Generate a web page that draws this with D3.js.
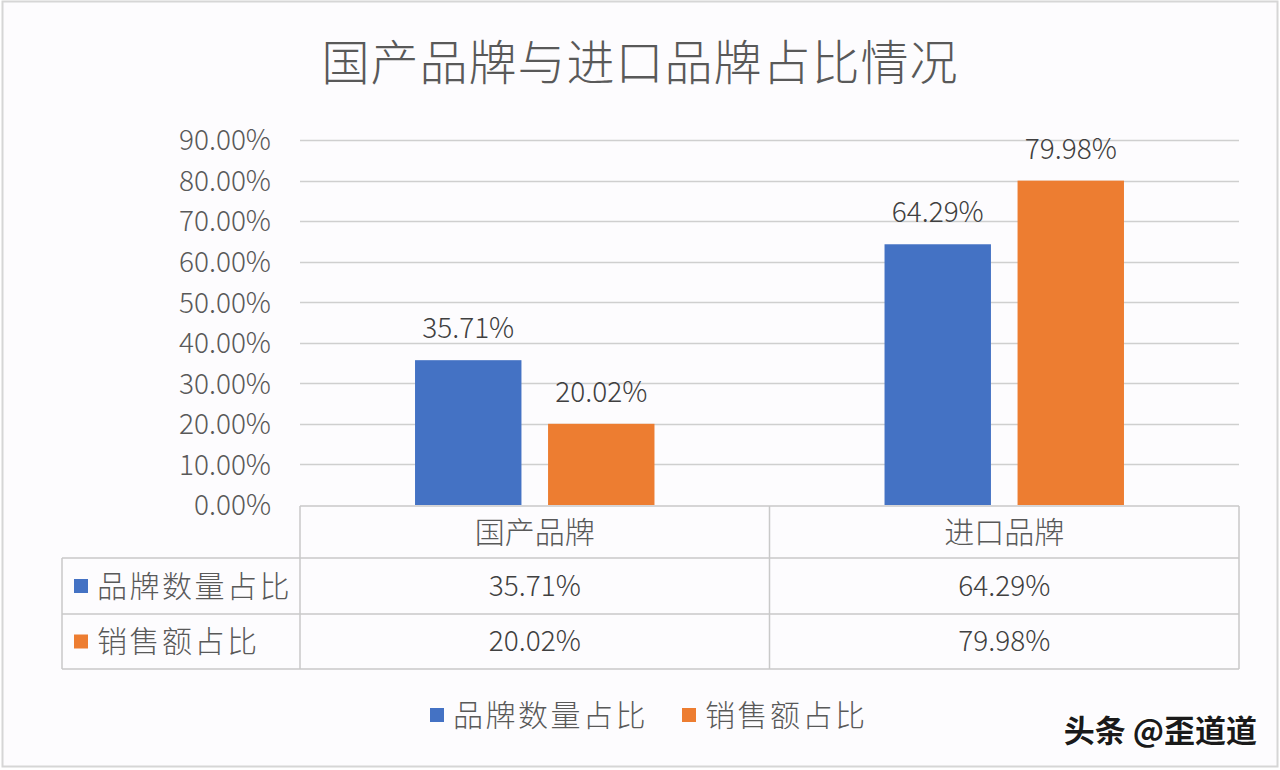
<!DOCTYPE html>
<html><head><meta charset="utf-8">
<script src="https://cdn.jsdelivr.net/npm/d3@7"></script>
<style>
html,body{margin:0;padding:0;background:#fff;}
svg{display:block;}
text{font-family:"Noto Sans CJK SC","Noto Sans",sans-serif;font-weight:300;}
</style></head>
<body>
<svg id="c" width="1280" height="770"></svg>
<script>
const title = "国产品牌与进口品牌占比情况";
const categories = ["国产品牌", "进口品牌"];
const seriesNames = ["品牌数量占比", "销售额占比"];
const brandCountShare = [0.3571, 0.6429];
const salesShare = [0.2002, 0.7998];
const yTicks = [0, 0.1, 0.2, 0.3, 0.4, 0.5, 0.6, 0.7, 0.8, 0.9];
const seriesColors = ["#4472C4", "#ED7D31"];
const watermark = "头条 @歪道道";

const seriesValues = [brandCountShare, salesShare];
const fmt = d3.format(".2%");
const svg = d3.select("#c");
const textColor = "#595959";

// background + outer border
svg.append("rect").attr("x", 2.5).attr("y", 1.5).attr("width", 1275).attr("height", 765)
  .attr("fill", "#fdfcfe").attr("stroke", "#d6d6d6").attr("stroke-width", 2);

// title
svg.append("text").attr("x", 640).attr("y", 80).attr("text-anchor", "middle")
  .attr("font-size", 48).attr("letter-spacing", 1).attr("fill", textColor).text(title);

const plotL = 300, plotR = 1239, plotT = 140, plotB = 505;
const x = d3.scaleBand().domain(categories).range([plotL, plotR]).padding(0);
const bw = x.bandwidth();
const xs = d3.scaleBand().domain(seriesNames).range([bw * 0.245, bw * 0.755]).paddingInner(0.2).paddingOuter(0);
const y = d3.scaleLinear().domain([0, 0.9]).range([plotB, plotT]);

// gridlines
svg.append("g").selectAll("line").data(yTicks.filter(d => d > 0)).join("line")
  .attr("x1", plotL).attr("x2", plotR)
  .attr("y1", d => Math.round(y(d)) + 0.5).attr("y2", d => Math.round(y(d)) + 0.5)
  .attr("stroke", "#cfcfcf").attr("stroke-width", 1.5);

// y axis
const yAxis = svg.append("g").attr("transform", `translate(${plotL - 29},0)`)
  .call(d3.axisLeft(y).tickValues(yTicks).tickFormat(fmt).tickSize(0).tickPadding(0));
yAxis.select(".domain").remove();
yAxis.selectAll("text").attr("font-size", 28).attr("fill", textColor)
  .attr("font-family", '"Noto Sans CJK SC","Noto Sans",sans-serif').attr("font-weight", 300).attr("dy", "0.35em");

// bars
const gBars = svg.append("g");
seriesNames.forEach((s, si) => {
  categories.forEach((c, ci) => {
    const v = seriesValues[si][ci];
    const bx = x(c) + xs(s);
    gBars.append("rect").attr("x", bx).attr("y", y(v)).attr("width", xs.bandwidth())
      .attr("height", y(0) - y(v)).attr("fill", seriesColors[si]);
    gBars.append("text").attr("x", bx + xs.bandwidth() / 2).attr("y", y(v) - 22)
      .attr("text-anchor", "middle").attr("font-size", 28).attr("fill", "#404040").text(fmt(v));
  });
});

// data table
const tableL = 62, rowY = [506, 558, 614, 669];
const tg = svg.append("g").attr("stroke", "#c9c9c9").attr("stroke-width", 1.5).attr("fill", "none");
tg.append("line").attr("x1", plotL).attr("x2", plotR).attr("y1", rowY[0]).attr("y2", rowY[0]);
[1, 2, 3].forEach(i => tg.append("line").attr("x1", tableL).attr("x2", plotR).attr("y1", rowY[i]).attr("y2", rowY[i]));
tg.append("line").attr("x1", tableL).attr("x2", tableL).attr("y1", rowY[1]).attr("y2", rowY[3]);
[plotL, x(categories[1]), plotR].forEach(vx =>
  tg.append("line").attr("x1", vx).attr("x2", vx).attr("y1", rowY[0]).attr("y2", rowY[3]));

// header
categories.forEach(c => {
  svg.append("text").attr("x", x(c) + bw / 2).attr("y", (rowY[0] + rowY[1]) / 2)
    .attr("dy", "0.35em").attr("text-anchor", "middle").attr("font-size", 30)
    .attr("fill", textColor).text(c);
});
// rows
seriesNames.forEach((s, si) => {
  const cy = (rowY[si + 1] + rowY[si + 2]) / 2;
  svg.append("rect").attr("x", 74).attr("y", cy - 7).attr("width", 14).attr("height", 14).attr("fill", seriesColors[si]);
  svg.append("text").attr("x", 97).attr("y", cy).attr("dy", "0.35em").attr("font-size", 30)
    .attr("fill", textColor).attr("letter-spacing", 2.5).text(s);
  categories.forEach((c, ci) => {
    svg.append("text").attr("x", x(c) + bw / 2).attr("y", cy).attr("dy", "0.35em")
      .attr("text-anchor", "middle").attr("font-size", 28).attr("fill", "#404040")
      .text(fmt(seriesValues[si][ci]));
  });
});

// legend
const legendY = 715;
const legendX = [430, 682];
seriesNames.forEach((s, si) => {
  svg.append("rect").attr("x", legendX[si]).attr("y", legendY - 7).attr("width", 14).attr("height", 14).attr("fill", seriesColors[si]);
  svg.append("text").attr("x", legendX[si] + 23).attr("y", legendY).attr("dy", "0.35em")
    .attr("font-size", 30).attr("letter-spacing", 2.5).attr("fill", textColor).text(s);
});

// watermark
svg.append("text").attr("x", 1257).attr("y", 731).attr("dy", "0.35em").attr("text-anchor", "end")
  .attr("font-size", 31).style("font-weight", "bold").attr("fill", "#1a1a1a")
  .attr("stroke", "#ffffff").attr("stroke-width", 3).attr("paint-order", "stroke").text(watermark);
</script>
</body></html>
